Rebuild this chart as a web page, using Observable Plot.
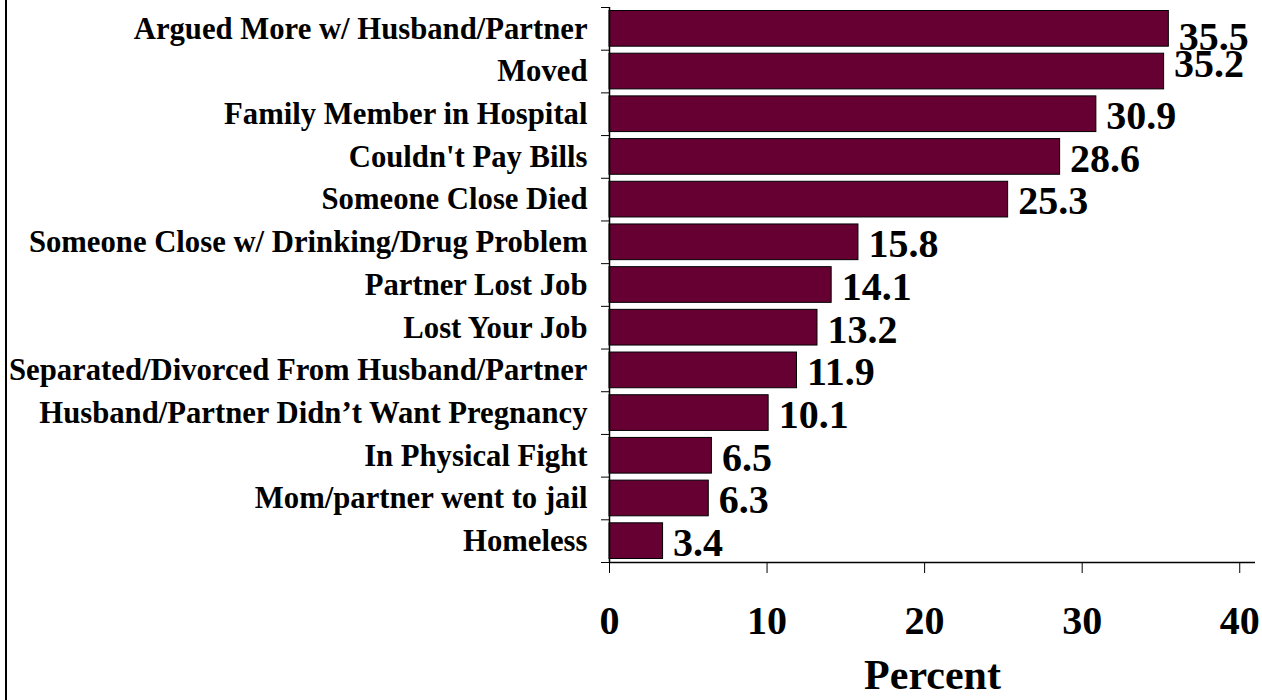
<!DOCTYPE html>
<html><head><meta charset="utf-8">
<script src="https://cdn.jsdelivr.net/npm/d3@7"></script>
<script src="https://cdn.jsdelivr.net/npm/@observablehq/plot@0.6"></script>
<style>
html,body{margin:0;padding:0;background:#fff;}
#wrap{position:relative;width:1262px;height:700px;overflow:hidden;}
#border{position:absolute;left:5px;top:0;width:2px;height:700px;background:#000;}
</style></head><body>
<div id="wrap"><div id="border"></div></div>
<script>
const categories = [
  "Argued More w/ Husband/Partner",
  "Moved",
  "Family Member in Hospital",
  "Couldn't Pay Bills",
  "Someone Close Died",
  "Someone Close w/ Drinking/Drug Problem",
  "Partner Lost Job",
  "Lost Your Job",
  "Separated/Divorced From Husband/Partner",
  "Husband/Partner Didn’t Want Pregnancy",
  "In Physical Fight",
  "Mom/partner went to jail",
  "Homeless"
];
const percents = [35.5, 35.2, 30.9, 28.6, 25.3, 15.8, 14.1, 13.2, 11.9, 10.1, 6.5, 6.3, 3.4];
const xTicks = [0, 10, 20, 30, 40];
const xLabel = "Percent";

const rows = categories.map((c, i) => ({category: c, value: percents[i], i}));
const font = "'Liberation Serif','Times New Roman',serif";

const plot = Plot.plot({
  width: 1262, height: 700,
  marginLeft: 609, marginRight: 7, marginTop: 7, marginBottom: 138,
  style: {fontFamily: font, fontWeight: "bold", background: "white", color: "black"},
  x: {domain: [0, 41], label: null},
  y: {domain: [0, categories.length], reverse: true, label: null},
  marks: [
    Plot.rect(rows, {x1: 0, x2: "value", y1: "i", y2: d => d.i + 1, insetTop: 3.5, insetBottom: 3.5, fill: "#660033", stroke: "#000", strokeWidth: 1}),
    Plot.ruleX([0], {stroke: "#000", strokeWidth: 1.5}),
    Plot.ruleY([categories.length], {stroke: "#000", strokeWidth: 1.5}),
    Plot.axisY({ticks: d3.range(categories.length + 1), tickSize: 8, tickFormat: () => "", label: null}),
    Plot.axisX({ticks: xTicks, tickSize: 11, tickPadding: 32, fontSize: 40, fontWeight: "bold", label: null}),
    Plot.text(rows, {frameAnchor: "left", y: d => d.i + 0.5, text: "category", textAnchor: "end", dx: -22, fontSize: 30.7, fontWeight: "bold", fill: "#000"}),
    Plot.text(rows, {filter: d => d.i >= 2, x: "value", y: d => d.i + 0.5, text: d => d.value.toFixed(1), textAnchor: "start", dx: 10, dy: 2, fontSize: 40, fontWeight: "bold", fill: "#000"}),
    Plot.text(rows, {filter: d => d.i === 0, x: "value", y: d => d.i + 0.5, text: d => d.value.toFixed(1), textAnchor: "start", dx: 10, dy: 8, fontSize: 40, fontWeight: "bold", fill: "#000"}),
    Plot.text(rows, {filter: d => d.i === 1, x: "value", y: d => d.i + 0.5, text: d => d.value.toFixed(1), textAnchor: "start", dx: 10, dy: -7, fontSize: 40, fontWeight: "bold", fill: "#000"}),
    Plot.text([xLabel], {frameAnchor: "bottom", dy: 126, fontSize: 42, fontWeight: "bold", fill: "#000"})
  ]
});
document.getElementById("wrap").appendChild(plot);
</script>
</body></html>
